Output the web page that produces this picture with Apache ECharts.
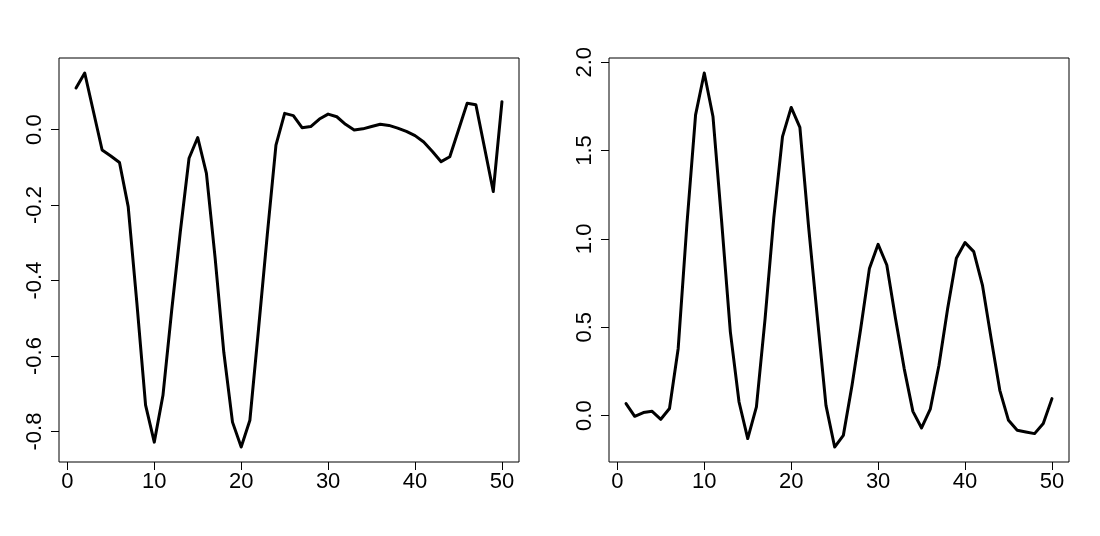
<!DOCTYPE html>
<html>
<head>
<meta charset="utf-8">
<script src="https://cdn.jsdelivr.net/npm/echarts@6/dist/echarts.min.js"></script>
<style>
  html, body { margin: 0; padding: 0; background: #fff; }
  #chart { width: 1100px; height: 536px; }
</style>
</head>
<body>
<div id="chart"></div>
<script>
// values, one per index 1..50
const leftValues = [0.110, 0.150, 0.048, -0.054, -0.070, -0.087, -0.204, -0.46, -0.730, -0.828,
                    -0.704, -0.48, -0.27, -0.076, -0.021, -0.116, -0.34, -0.59, -0.775, -0.841,
                    -0.770, -0.527, -0.279, -0.041, 0.043, 0.037, 0.005, 0.008, 0.028, 0.041,
                    0.034, 0.014, -0.001, 0.002, 0.008, 0.014, 0.011, 0.004, -0.005, -0.016,
                    -0.033, -0.058, -0.085, -0.072, -0.001, 0.070, 0.066, -0.049, -0.164, 0.074];
const rightValues = [0.068, -0.004, 0.017, 0.024, -0.021, 0.040, 0.38, 1.08, 1.702, 1.939,
                     1.693, 1.098, 0.474, 0.077, -0.130, 0.049, 0.55, 1.12, 1.579, 1.744,
                     1.631, 1.07, 0.56, 0.058, -0.178, -0.112, 0.172, 0.493, 0.833, 0.969,
                     0.852, 0.55, 0.266, 0.024, -0.070, 0.036, 0.285, 0.606, 0.890, 0.979,
                     0.928, 0.739, 0.437, 0.143, -0.027, -0.083, -0.093, -0.102, -0.045, 0.096];
const xTicks = [0, 10, 20, 30, 40, 50];
const leftYTicks = [-0.8, -0.6, -0.4, -0.2, 0.0];
const rightYTicks = [0.0, 0.5, 1.0, 1.5, 2.0];

const FONT = 'Liberation Sans, Arial, sans-serif';

// R style range: data range padded by 4% on each side
function padRange(vals) {
    let lo = Math.min(...vals), hi = Math.max(...vals);
    let d = (hi - lo) * 0.04;
    return [lo - d, hi + d];
}
function toPairs(vals) {
    return vals.map((v, i) => [i + 1, v]);
}

const xIdx = leftValues.map((v, i) => i + 1);
const xRange = padRange(xIdx);
const leftRange = padRange(leftValues);
const rightRange = padRange(rightValues);

function xAxisFor(gridIndex) {
    return {
        type: 'value',
        gridIndex: gridIndex,
        position: 'bottom',
        min: xRange[0],
        max: xRange[1],
        axisLine: { show: false, onZero: false },
        splitLine: { show: false },
        axisTick: {
            show: true, length: 8, customValues: xTicks,
            lineStyle: { color: '#000', width: 1 }
        },
        axisLabel: {
            customValues: xTicks, margin: 9,
            color: '#000', fontSize: 22, fontFamily: FONT,
            formatter: v => String(v)
        }
    };
}
function yAxisFor(gridIndex, range, ticks) {
    return {
        type: 'value',
        gridIndex: gridIndex,
        position: 'left',
        min: range[0],
        max: range[1],
        axisLine: { show: false, onZero: false },
        splitLine: { show: false },
        axisTick: {
            show: true, length: 8, customValues: ticks,
            lineStyle: { color: '#000', width: 1 }
        },
        axisLabel: {
            customValues: ticks, margin: 13, rotate: 90,
            color: '#000', fontSize: 22, fontFamily: FONT,
            formatter: v => v.toFixed(1)
        }
    };
}
function lineSeries(idx, vals) {
    return {
        type: 'line',
        xAxisIndex: idx,
        yAxisIndex: idx,
        data: toPairs(vals),
        symbol: 'none',
        lineStyle: { color: '#000', width: 3, cap: 'round', join: 'round' }
    };
}

let myChart = echarts.init(document.getElementById('chart'), null, { renderer: 'canvas' });
let option = {
    animation: false,
    backgroundColor: '#fff',
    grid: [
        { left: 59, top: 58, width: 460, height: 404, show: true, borderColor: '#000', borderWidth: 1, backgroundColor: 'transparent' },
        { left: 609, top: 58, width: 460, height: 404, show: true, borderColor: '#000', borderWidth: 1, backgroundColor: 'transparent' }
    ],
    xAxis: [xAxisFor(0), xAxisFor(1)],
    yAxis: [yAxisFor(0, leftRange, leftYTicks), yAxisFor(1, rightRange, rightYTicks)],
    series: [lineSeries(0, leftValues), lineSeries(1, rightValues)]
};
myChart.setOption(option);
</script>
</body>
</html>
